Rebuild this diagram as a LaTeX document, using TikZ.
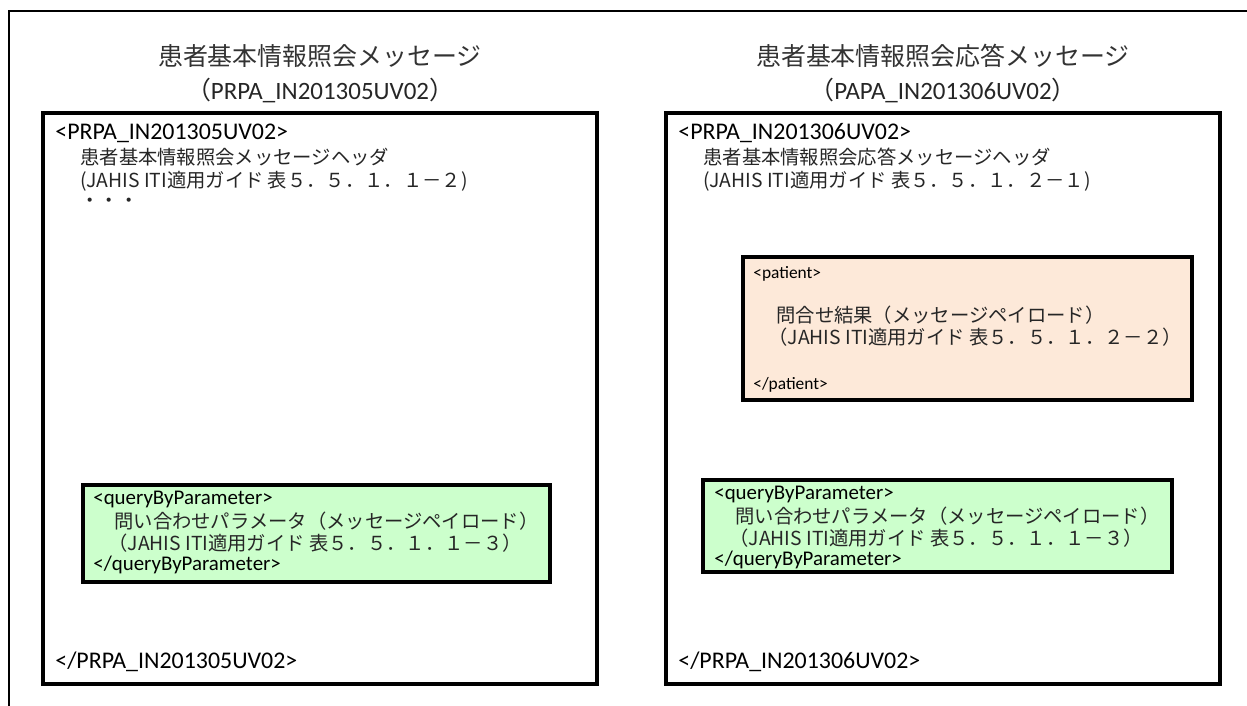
\documentclass[tikz,border=0pt]{standalone}
\usepackage{fontspec}
\setmainfont{Carlito}
\newfontfamily\jpfont{Noto Sans CJK JP}
\usepackage{xcolor}
\usetikzlibrary{positioning}
\definecolor{querygreen}{RGB}{204,255,204}
\definecolor{patientpeach}{RGB}{253,233,217}

\begin{document}
\begin{tikzpicture}[
  x=0.02cm, y=-0.02cm,
  msgbox/.style={rectangle, draw=black, line width=2pt, fill=white, inner sep=0pt},
  querybox/.style={msgbox, fill=querygreen},
  patientbox/.style={msgbox, fill=patientpeach},
  msgtitle/.style={inner sep=0pt, text=black!80, font=\jpfont\fontsize{14.2}{17}\selectfont},
  msgid/.style={inner sep=0pt, text=black!85, font=\fontsize{14.2}{17}\selectfont},
  xmltag/.style={anchor=west, inner sep=0pt, font=\fontsize{13.6}{16}\selectfont},
  querytag/.style={xmltag, font=\fontsize{11.9}{14}\selectfont},
  patienttag/.style={xmltag, font=\fontsize{9.9}{12}\selectfont},
  jptext/.style={anchor=west, inner sep=0pt, text=black!85, font=\jpfont\fontsize{11}{13}\selectfont},
  framerule/.style={line width=1.1pt}
]
\useasboundingbox (0,0) rectangle (1247,706);

% frame
\coordinate (framebl) at (9,706);
\coordinate (frametl) at (9,11);
\coordinate (frametr) at (1247,11);
\draw[framerule] (framebl) -- (frametl) -- (frametr);

% titles
\node[msgtitle] (reqtitle) at (320,56) {患者基本情報照会メッセージ};
\node[msgid] (reqid) at (320,90) {{\jpfont （}PRPA\_IN201305UV02{\jpfont ）}};
\node[msgtitle] (restitle) at (943,56) {患者基本情報照会応答メッセージ};
\node[msgid] (resid) at (943,90) {{\jpfont （}PAPA\_IN201306UV02{\jpfont ）}};

% message boxes
\node[msgbox, minimum width=11.08cm, minimum height=11.42cm] (reqbox) at (320,398.5) {};
\node[msgbox, minimum width=11.08cm, minimum height=11.42cm] (resbox) at (943,398.5) {};
\node[querybox, minimum width=9.34cm, minimum height=1.94cm] (reqquery) at (316.5,533.5) {};
\node[querybox, minimum width=9.38cm, minimum height=1.84cm] (resquery) at (937.5,526) {};
\node[patientbox, minimum width=8.98cm, minimum height=2.86cm] (respatient) at (967.5,328.5) {};

% request message
\node[xmltag] (reqopen) at (55,133) {<PRPA\_IN201305UV02>};
\node[jptext] (reqhead) at (80,157) {患者基本情報照会メッセージヘッダ};
\node[jptext] (reqref) at (80,181) {(JAHIS ITI適用ガイド 表５．５．１．１－２)};
\node[jptext] (reqdots) at (80,203) {・・・};
\node[querytag] (reqqopen) at (93,499) {<queryByParameter>};
\node[jptext] (reqqname) at (114,521) {問い合わせパラメータ（メッセージペイロード）};
\node[jptext] (reqqref) at (108,543) {（JAHIS ITI適用ガイド 表５．５．１．１－３）};
\node[querytag] (reqqclose) at (93,565) {</queryByParameter>};
\node[xmltag] (reqclose) at (55,662) {</PRPA\_IN201305UV02>};

% response message
\node[xmltag] (resopen) at (678,133) {<PRPA\_IN201306UV02>};
\node[jptext] (reshead) at (703,157) {患者基本情報照会応答メッセージヘッダ};
\node[jptext] (resref) at (703,181) {(JAHIS ITI適用ガイド 表５．５．１．２－１)};
\node[patienttag] (patopen) at (753,274) {<patient>};
\node[jptext] (patname) at (776,315) {問合せ結果（メッセージペイロード）};
\node[jptext] (patref) at (768,337) {（JAHIS ITI適用ガイド 表５．５．１．２－２）};
\node[patienttag] (patclose) at (753,385) {</patient>};
\node[querytag] (resqopen) at (714,494) {<queryByParameter>};
\node[jptext] (resqname) at (735,516) {問い合わせパラメータ（メッセージペイロード）};
\node[jptext] (resqref) at (729,538) {（JAHIS ITI適用ガイド 表５．５．１．１－３）};
\node[querytag] (resqclose) at (714,560) {</queryByParameter>};
\node[xmltag] (resclose) at (678,662) {</PRPA\_IN201306UV02>};

\end{tikzpicture}
\end{document}
